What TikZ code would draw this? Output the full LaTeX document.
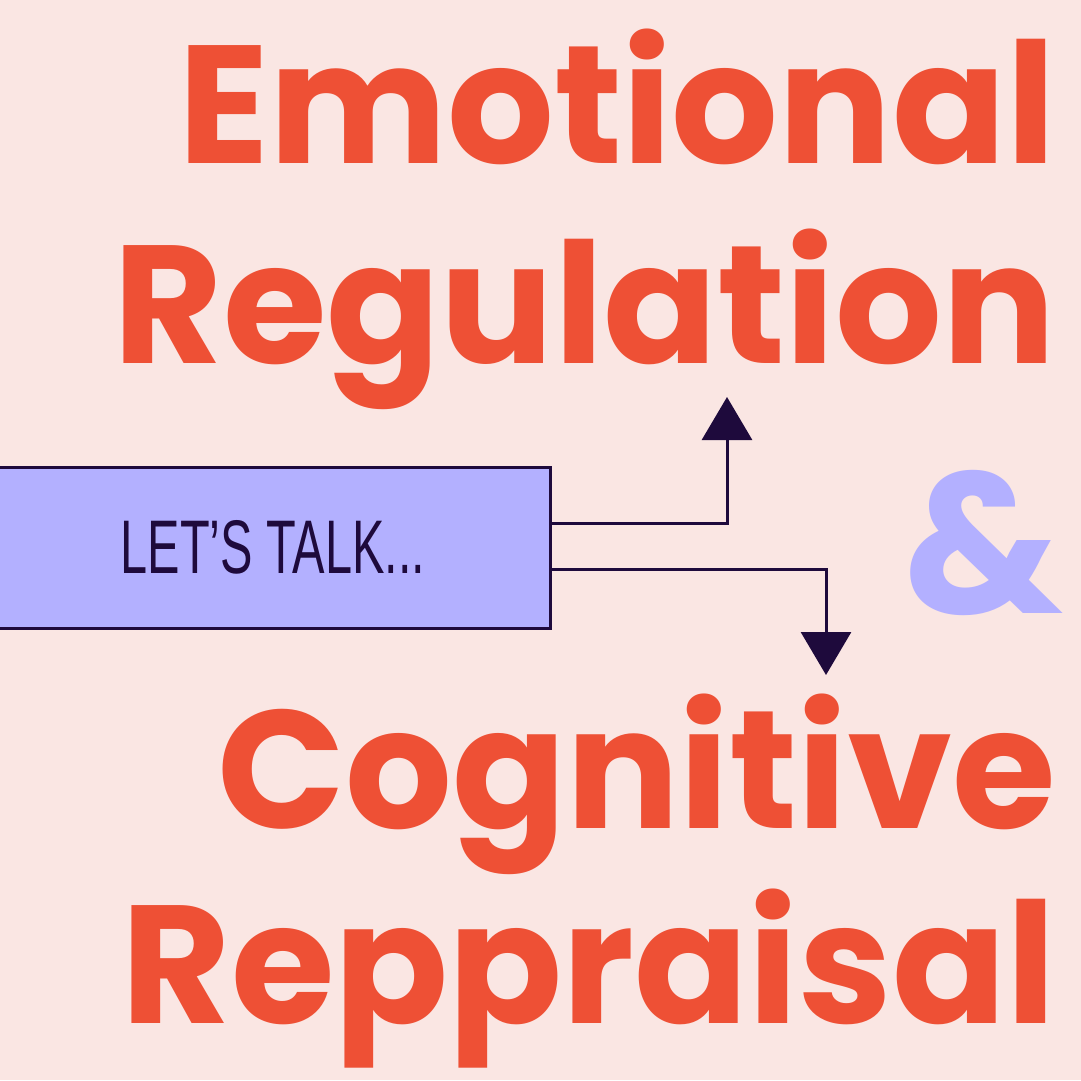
\documentclass[tikz,border=0pt]{standalone}
\usepackage{fontspec}
\usepackage{xcolor}
\usetikzlibrary{arrows.meta,positioning}
\setmainfont{Poppins}[BoldFont={* Bold},]
\newfontfamily\talkfont{Liberation Sans}
\definecolor{bgpink}{HTML}{FAE6E3}
\definecolor{titlered}{HTML}{EE5035}
\definecolor{lavender}{HTML}{B3B0FF}
\definecolor{ink}{HTML}{1E0A3C}
\tikzset{
  title/.style={anchor=base east,inner sep=0pt,text=titlered,font=\fontsize{168}{168}\selectfont\bfseries},
  flow/.style={ink,line width=3pt,-{Triangle[length=43pt,width=50pt]}}
}
\begin{document}
\begin{tikzpicture}[x=1pt,y=-1pt]
\fill[bgpink] (0,0) rectangle (1081,1080);
\useasboundingbox (0,0) rectangle (1081,1080);

\node[title] (emo) at (1056,163) {Emotional};
\node[title] (reg) at (1056,363) {Regulation};
\node[title] (cog) at (1056,828) {Cognitive};
\node[title] (rep) at (1056,1023) {Reppraisal};
\node[inner sep=0pt,text=lavender,font=\fontsize{200}{200}\selectfont\bfseries] (amp) at (983,543) {\&};

\draw[ink,line width=3pt,fill=lavender] (-5,467) rectangle (550,628);
\coordinate (boxtop) at (550,523);
\coordinate (boxbot) at (550,569);
\node[inner sep=0pt,text=ink,font=\talkfont\fontsize{76}{76}\selectfont,xscale=0.64] (talk) at (273,547) {LET’S TALK...};

\coordinate (up) at (727,397);
\coordinate (down) at (826,675);
\draw[flow] (boxtop) -| (up);
\draw[flow] (boxbot) -| (down);
\end{tikzpicture}
\end{document}
